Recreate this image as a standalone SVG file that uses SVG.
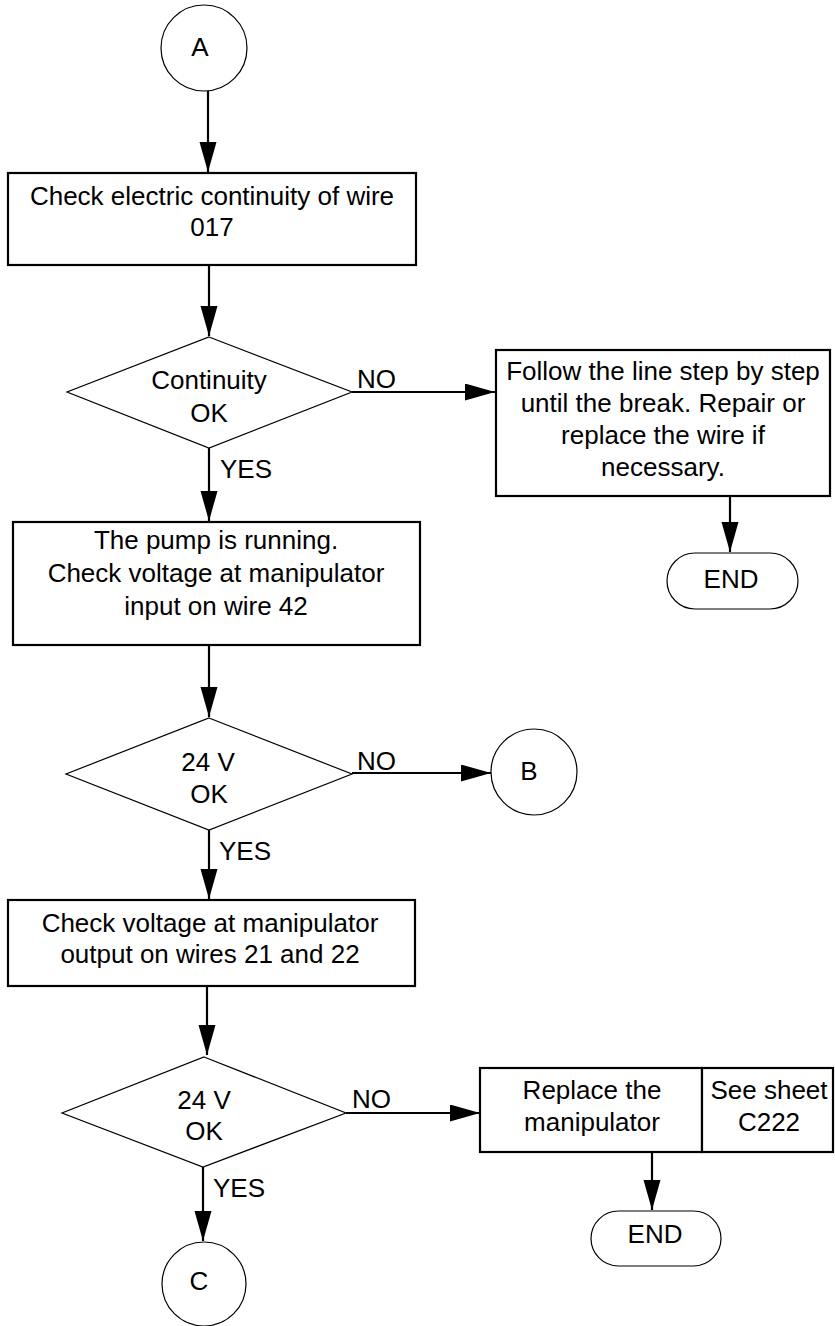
<svg xmlns="http://www.w3.org/2000/svg" width="835" height="1326" viewBox="0 0 835 1326">
<style>
text{font-family:"Liberation Sans",Arial,sans-serif;font-size:26px;fill:#000;text-anchor:middle}
.lbl{text-anchor:start}
.box{fill:#fff;stroke:#000;stroke-width:2.2}
.thin{fill:#fff;stroke:#000;stroke-width:1.2}
.conn line{stroke:#000;stroke-width:2.2}
</style>
<defs>
<marker id="ah" markerUnits="userSpaceOnUse" markerWidth="30" markerHeight="18" refX="30" refY="8.5" orient="auto">
<path d="M0,0 L30,8.5 L0,17 z" fill="#000"/>
</marker>
</defs>
<rect width="835" height="1326" fill="#fff"/>
<g id="connectors" class="conn">
<line x1="208" y1="91" x2="208" y2="172" marker-end="url(#ah)"/>
<line x1="209" y1="265" x2="209" y2="336" marker-end="url(#ah)"/>
<line x1="352" y1="392" x2="495" y2="392" marker-end="url(#ah)"/>
<line x1="730" y1="496" x2="730" y2="552" marker-end="url(#ah)"/>
<line x1="209" y1="448" x2="209" y2="521" marker-end="url(#ah)"/>
<line x1="209" y1="645" x2="209" y2="717" marker-end="url(#ah)"/>
<line x1="352" y1="773" x2="491" y2="773" marker-end="url(#ah)"/>
<line x1="209" y1="830" x2="209" y2="899" marker-end="url(#ah)"/>
<line x1="207" y1="986" x2="207" y2="1055" marker-end="url(#ah)"/>
<line x1="346" y1="1113" x2="480" y2="1113" marker-end="url(#ah)"/>
<line x1="652" y1="1152" x2="652" y2="1210" marker-end="url(#ah)"/>
<line x1="203" y1="1167" x2="203" y2="1241" marker-end="url(#ah)"/>
</g>
<g id="nodeA">
<circle class="thin" cx="204" cy="48" r="43"/>
<text x="200" y="56">A</text>
</g>
<g id="box1">
<rect class="box" x="8" y="173" width="408" height="92"/>
<text x="212" y="205">Check electric continuity of wire</text>
<text x="212" y="236">017</text>
</g>
<g id="dec1">
<polygon class="thin" points="209,337 352,392 209,448 67,392"/>
<text x="209" y="389">Continuity</text>
<text x="209" y="422">OK</text>
</g>
<g id="lblNo1"><text class="lbl" x="357" y="388">NO</text></g>
<g id="lblYes1"><text class="lbl" x="220" y="478">YES</text></g>
<g id="follow">
<rect class="box" x="496" y="350" width="334" height="146"/>
<text x="663" y="380">Follow the line step by step</text>
<text x="663" y="412">until the break. Repair or</text>
<text x="663" y="444">replace the wire if</text>
<text x="663" y="476">necessary.</text>
</g>
<g id="end1">
<rect class="thin" x="667" y="553" width="131" height="56" rx="28" ry="28"/>
<text x="731" y="588">END</text>
</g>
<g id="pump">
<rect class="box" x="13" y="522" width="407" height="123"/>
<text x="216" y="549">The pump is running.</text>
<text x="216" y="582">Check voltage at manipulator</text>
<text x="216" y="615">input on wire 42</text>
</g>
<g id="dec2">
<polygon class="thin" points="209,718 352,774 209,830 66,774"/>
<text x="208" y="771">24 V</text>
<text x="209" y="803">OK</text>
</g>
<g id="lblNo2"><text class="lbl" x="357" y="770">NO</text></g>
<g id="nodeB">
<circle class="thin" cx="534" cy="772" r="43"/>
<text x="529" y="780">B</text>
</g>
<g id="lblYes2"><text class="lbl" x="219" y="860">YES</text></g>
<g id="box3">
<rect class="box" x="8" y="900" width="407" height="86"/>
<text x="210" y="932">Check voltage at manipulator</text>
<text x="210" y="963">output on wires 21 and 22</text>
</g>
<g id="dec3">
<polygon class="thin" points="204,1057 346,1113 203,1167 62,1113"/>
<text x="204" y="1109">24 V</text>
<text x="204" y="1140">OK</text>
</g>
<g id="lblNo3"><text class="lbl" x="352" y="1108">NO</text></g>
<g id="lblYes3"><text class="lbl" x="213" y="1197">YES</text></g>
<g id="replace">
<rect class="box" x="480" y="1068" width="222" height="84"/>
<text x="592" y="1099">Replace the</text>
<text x="592" y="1131">manipulator</text>
</g>
<g id="seeSheet">
<rect class="box" x="702" y="1068" width="131" height="84"/>
<text x="769" y="1099">See sheet</text>
<text x="769" y="1131">C222</text>
</g>
<g id="end2">
<rect class="thin" x="591" y="1211" width="130" height="55" rx="27.5" ry="27.5"/>
<text x="655" y="1243">END</text>
</g>
<g id="nodeC">
<circle class="thin" cx="204" cy="1284" r="42"/>
<text x="199" y="1290">C</text>
</g>
</svg>
